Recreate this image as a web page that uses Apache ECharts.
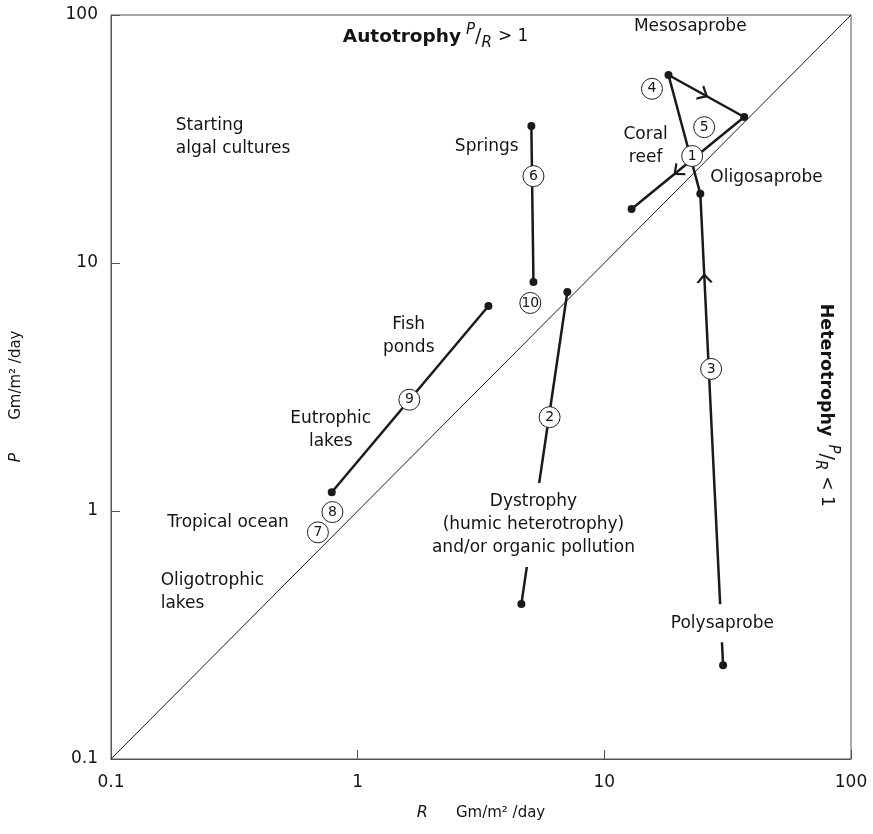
<!DOCTYPE html>
<html><head><meta charset="utf-8">
<script src="https://cdn.jsdelivr.net/npm/echarts@6/dist/echarts.min.js"></script>
<style>html,body{margin:0;padding:0;background:#fff}#c{width:873px;height:834px}</style>
</head><body><div id="c"></div>
<script>
// Axis tick labels (decades 0.1 .. 100)
const tickLabels = ['0.1', '1', '10', '100'];

// Trajectories, points as [R, P] in Gm/m²/day
const saprobicPath = [[30.3, 0.239], [24.5, 19.0], [18.2, 57.3], [36.9, 38.8], [12.9, 16.5]];
const springsPath = [[5.06, 35.7], [5.16, 8.38]];
const fishPondPath = [[3.39, 6.71], [0.785, 1.19]];
const dystrophyPath = [[7.08, 7.64], [4.61, 0.422]];
const diagonal = [[0.1, 0.1], [100, 100]];

// Numbered circle markers
const markerNums = ['1', '2', '3', '4', '5', '6', '7', '8', '9', '10'];
const markerR = [22.7, 6.0, 27.1, 15.6, 25.4, 5.16, 0.69, 0.79, 1.62, 5.01];
const markerP = [27.0, 2.39, 3.74, 50.4, 35.3, 22.4, 0.82, 0.99, 2.81, 6.90];

// Direction arrows along the saprobic path: segment index and fraction along it
const arrowSeg = [2, 3, 0];
const arrowFrac = [0.46, 0.59, 0.82];

// Text annotations
const annoText = ['Starting\nalgal cultures', 'Springs', 'Coral\nreef', 'Mesosaprobe', 'Oligosaprobe',
  'Fish\nponds', 'Eutrophic\nlakes', 'Tropical ocean', 'Oligotrophic\nlakes',
  'Dystrophy\n(humic heterotrophy)\nand/or organic pollution', 'Polysaprobe'];
const annoR = [0.183, 4.49, 14.7, 22.3, 26.9, 1.61, 0.778, 0.526, 0.159, 5.16, 30.1];
const annoP = [32.2, 29.4, 29.5, 89.5, 22.2, 5.06, 2.12, 0.896, 0.471, 0.878, 0.353];
const annoAlign = ['left', 'right', 'center', 'center', 'left', 'center', 'center', 'right', 'left', 'center', 'center'];
const annoMask = [false, false, false, false, false, false, false, false, false, true, true];

// Regime labels
const regimeText = ['Autotrophy', 'Heterotrophy'];
const regimeOp = ['>', '<'];
const regimeR = [2.07, 79.2];
const regimeP = [81.5, 2.67];

const FONT = 'DejaVu Sans';
const INK = '#141414';

const chart = echarts.init(document.getElementById('c'), null, {renderer: 'canvas'});

const lg = Math.log10;
const arrowData = arrowSeg.map((s, i) => {
  const a = saprobicPath[s], b = saprobicPath[s + 1], t = arrowFrac[i];
  const lr = lg(a[0]) + (lg(b[0]) - lg(a[0])) * t;
  const lp = lg(a[1]) + (lg(b[1]) - lg(a[1])) * t;
  const ang = Math.atan2(lg(b[1]) - lg(a[1]), lg(b[0]) - lg(a[0])) * 180 / Math.PI;
  return {value: [Math.pow(10, lr), Math.pow(10, lp)], symbolRotate: ang - 90};
});

function lineSeries(data, z) {
  return {
    type: 'line', data: data, z: z, symbol: 'circle', symbolSize: 8, showSymbol: true,
    lineStyle: {color: '#1a1a1a', width: 2.5}, itemStyle: {color: '#1a1a1a', opacity: 1},
    silent: true, animation: false
  };
}

function ratioRich(boldSize, gap) {
  return {
    b: {fontFamily: FONT, fontSize: boldSize, fontWeight: 'bold', color: INK, lineHeight: 28, padding: [0, gap, 0, 0]},
    sp: {fontFamily: FONT, fontSize: 15, fontStyle: 'italic', color: INK, verticalAlign: 'top', lineHeight: 28},
    sl: {fontFamily: FONT, fontSize: 19, color: INK, lineHeight: 28},
    sb: {fontFamily: FONT, fontSize: 15, fontStyle: 'italic', color: INK, verticalAlign: 'bottom', lineHeight: 28},
    t: {fontFamily: FONT, fontSize: 17, color: INK, lineHeight: 28, padding: [0, 0, 0, 6]}
  };
}

const xNameRich = {
  i: {fontFamily: FONT, fontSize: 16, fontStyle: 'italic', color: INK, padding: [0, 28, 0, 0]},
  u: {fontFamily: FONT, fontSize: 15, color: INK}
};
const yNameRich = {
  i: {fontFamily: FONT, fontSize: 16, fontStyle: 'italic', color: INK, padding: [0, 33, 0, 0]},
  u: {fontFamily: FONT, fontSize: 15, color: INK, padding: [0, 19, 0, 0]}
};

const option = {
  backgroundColor: '#fff',
  animation: false,
  grid: {left: 110, right: 22, top: 15, bottom: 75, show: true, borderColor: '#555', borderWidth: 1},
  xAxis: {
    type: 'log', logBase: 10, min: 0.1, max: 100,
    axisLine: {show: true, lineStyle: {color: '#555', width: 1}},
    axisTick: {show: true, inside: true, length: 9, lineStyle: {color: '#555'}},
    minorTick: {show: false},
    splitLine: {show: false},
    axisLabel: {
      fontFamily: FONT, fontSize: 17, color: INK, margin: 15,
      formatter: v => tickLabels[Math.round(lg(v)) + 1]
    },
    name: '{i|R}{u|Gm/m² /day}', nameLocation: 'middle', nameGap: 46,
    nameTextStyle: {rich: xNameRich}
  },
  yAxis: {
    type: 'log', logBase: 10, min: 0.1, max: 100,
    axisLine: {show: true, lineStyle: {color: '#555', width: 1}},
    axisTick: {show: true, inside: true, length: 9, lineStyle: {color: '#555'}},
    minorTick: {show: false},
    splitLine: {show: false},
    axisLabel: {
      fontFamily: FONT, fontSize: 17, color: INK, margin: 13,
      formatter: v => tickLabels[Math.round(lg(v)) + 1]
    },
    name: '{i|P}{u|Gm/m² /day}', nameLocation: 'middle', nameGap: 87, nameRotate: 90,
    nameTextStyle: {rich: yNameRich}
  },
  series: [
    {type: 'line', data: diagonal, z: 1, symbol: 'none', lineStyle: {color: '#1a1a1a', width: 1}, silent: true},
    lineSeries(saprobicPath, 2),
    lineSeries(springsPath, 2),
    lineSeries(fishPondPath, 2),
    lineSeries(dystrophyPath, 2),
    {
      type: 'scatter', z: 3, data: arrowData,
      symbol: 'path://M0,10 L7,0 L14,10', symbolSize: [14, 8],
      itemStyle: {color: 'none', borderColor: '#1a1a1a', borderWidth: 2, opacity: 1}, silent: true
    },
    {
      type: 'scatter', z: 5, symbolSize: 1, itemStyle: {color: 'rgba(0,0,0,0)', opacity: 1}, silent: true,
      data: annoText.map((t, i) => ({
        value: [annoR[i], annoP[i]],
        label: {
          show: true, position: 'inside', formatter: t, align: annoAlign[i], verticalAlign: 'middle',
          fontFamily: FONT, fontSize: 17, color: INK, lineHeight: 23, textBorderWidth: 0,
          backgroundColor: annoMask[i] ? '#fff' : 'transparent', padding: annoMask[i] ? [5, 4, 10, 4] : 0
        }
      })).concat(regimeText.map((t, i) => ({
        value: [regimeR[i], regimeP[i]],
        label: {
          show: true, position: 'inside', align: 'center', verticalAlign: 'middle', textBorderWidth: 0,
          rotate: i === 0 ? 0 : -90,
          formatter: '{b|' + t + '}{sp|P}{sl|/}{sb|R}{t|' + regimeOp[i] + ' 1}',
          rich: ratioRich(i === 0 ? 18.5 : 17.5, i === 0 ? 5 : 8)
        }
      })))
    },
    {
      type: 'scatter', z: 6, symbol: 'circle', symbolSize: 21,
      itemStyle: {color: '#fff', borderColor: '#222', borderWidth: 1, opacity: 1}, silent: true,
      data: markerNums.map((n, i) => ({value: [markerR[i], markerP[i]], name: n})),
      label: {show: true, position: 'inside', formatter: p => p.name, fontFamily: FONT, fontSize: 14, color: INK, textBorderWidth: 0}
    }
  ]
};
chart.setOption(option);
</script>
</body></html>
